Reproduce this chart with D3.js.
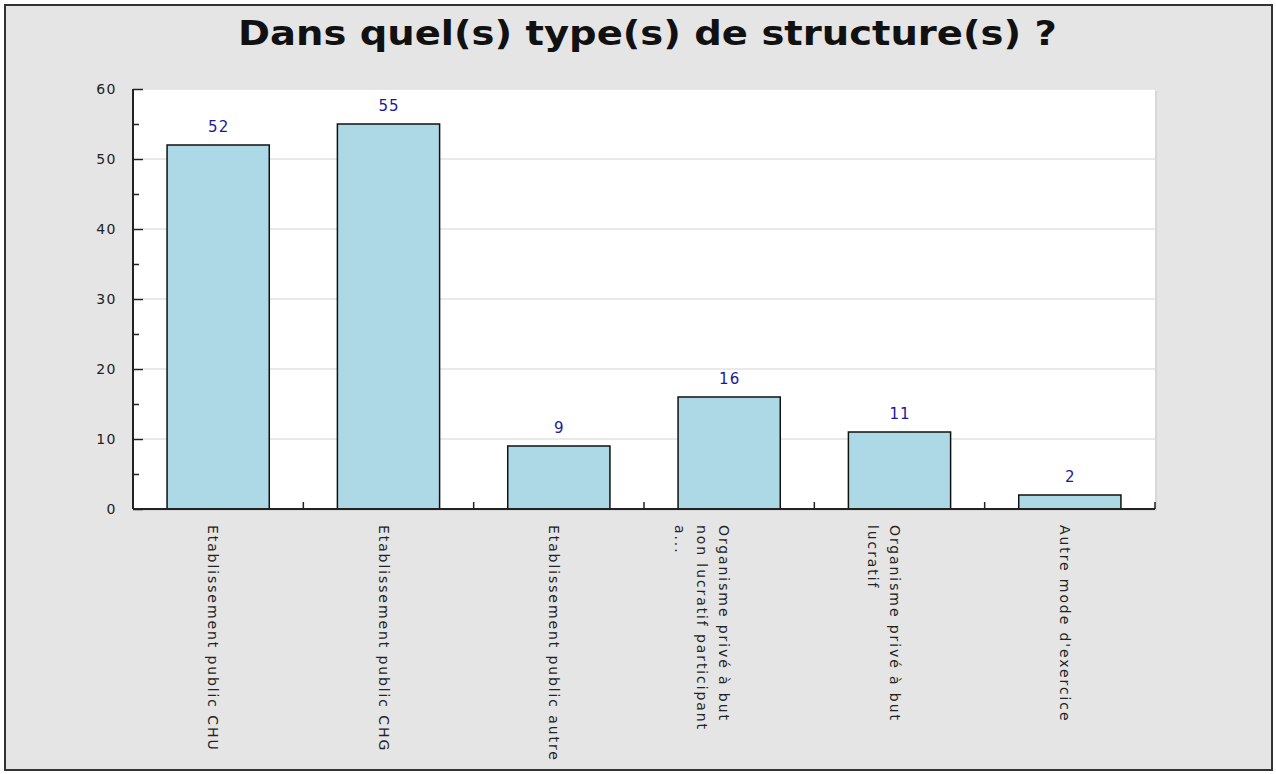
<!DOCTYPE html>
<html>
<head>
<meta charset="utf-8">
<script src="https://cdn.jsdelivr.net/npm/d3@7"></script>
<style>
  body { margin: 0; background: #fff; }
  text { font-family: "DejaVu Sans", Verdana, sans-serif; }
</style>
</head>
<body>
<div id="bar_chart"></div>
<script>
// data
const categories = [
  ['Etablissement public CHU'],
  ['Etablissement public CHG'],
  ['Etablissement public autre'],
  ['Organisme privé à but', 'non lucratif participant', 'a...'],
  ['Organisme privé à but', 'lucratif'],
  ["Autre mode d'exercice"]
];
const counts = [52, 55, 9, 16, 11, 2];
const yTicks = [0, 10, 20, 30, 40, 50, 60];
const title = 'Dans quel(s) type(s) de structure(s) ?';

const W = 1276, H = 774;
const chart = {left: 133, right: 1155, top: 89, bottom: 509};

const data = counts.map((c, i) => ({key: i, lines: categories[i], count: c}));

const xScale = d3.scaleBand()
  .domain(data.map(d => d.key))
  .range([chart.left, chart.right])
  .paddingInner(0.4)
  .paddingOuter(0.2);
const band = (chart.right - chart.left) / data.length;

const yScale = d3.scaleLinear()
  .domain([0, 60])
  .range([chart.bottom, chart.top]);

const svg = d3.select('#bar_chart')
  .append('svg')
  .attr('width', W)
  .attr('height', H);

// background + frame
svg.append('rect')
  .attr('x', 5).attr('y', 5)
  .attr('width', W - 9).attr('height', H - 9)
  .attr('fill', '#e5e5e5')
  .attr('stroke', '#333')
  .attr('stroke-width', 2);

// plot area with slight shadow
svg.append('rect')
  .attr('x', chart.left + 2).attr('y', chart.top + 2)
  .attr('width', chart.right - chart.left).attr('height', chart.bottom - chart.top)
  .attr('fill', '#d8d8d8');
svg.append('rect')
  .attr('x', chart.left).attr('y', chart.top)
  .attr('width', chart.right - chart.left).attr('height', chart.bottom - chart.top)
  .attr('fill', '#fff');

// title: glyphs are stretched horizontally in the picture
const titleText = svg.append('text')
  .attr('x', 0).attr('y', 0)
  .attr('font-size', '33px')
  .attr('font-weight', 'bold')
  .attr('fill', '#111')
  .text(title);
const tw = titleText.node().getComputedTextLength();
titleText.attr('transform', `translate(238,45) scale(${819 / tw},1)`);

// gridlines
svg.append('g')
  .selectAll('line')
  .data(yTicks.filter(t => t > 0))
  .join('line')
    .attr('x1', chart.left + 10)
    .attr('x2', chart.right)
    .attr('y1', d => yScale(d))
    .attr('y2', d => yScale(d))
    .attr('stroke', '#e2e2e2')
    .attr('stroke-width', 1.5);

// y axis: major ticks inside, minor ticks every 5
const yAxis = svg.append('g')
  .attr('transform', `translate(${chart.left},0)`)
  .call(d3.axisRight(yScale).tickValues(yTicks).tickSize(10).tickFormat(''));
yAxis.select('.domain').remove();
yAxis.selectAll('line').attr('stroke', '#222').attr('stroke-width', 1.5);

svg.append('g')
  .attr('transform', `translate(${chart.left},0)`)
  .call(d3.axisRight(yScale).tickValues(d3.range(5, 60, 10)).tickSize(6).tickFormat(''))
  .call(g => g.select('.domain').remove())
  .selectAll('line').attr('stroke', '#222').attr('stroke-width', 1.5);

svg.append('g')
  .selectAll('text')
  .data(yTicks)
  .join('text')
    .attr('x', chart.left - 16)
    .attr('y', d => yScale(d))
    .attr('dy', '0.36em')
    .attr('text-anchor', 'end')
    .attr('font-size', '14px')
    .attr('letter-spacing', '1.5px')
    .attr('fill', '#222')
    .text(d => d);

// bars
svg.append('g')
  .selectAll('rect')
  .data(data)
  .join('rect')
    .attr('x', d => xScale(d.key))
    .attr('y', d => yScale(d.count))
    .attr('width', xScale.bandwidth())
    .attr('height', d => yScale(0) - yScale(d.count))
    .attr('fill', '#add8e6')
    .attr('stroke', '#111')
    .attr('stroke-width', 1.5);

// value labels
svg.append('g')
  .selectAll('text')
  .data(data)
  .join('text')
    .attr('x', d => xScale(d.key) + xScale.bandwidth() / 2 + 0.5)
    .attr('y', d => yScale(d.count) - 13)
    .attr('text-anchor', 'middle')
    .attr('font-size', '15px')
    .attr('letter-spacing', '1px')
    .attr('fill', '#1a1a9a')
    .text(d => d.count);

// axis lines
svg.append('line')
  .attr('x1', chart.left).attr('x2', chart.left)
  .attr('y1', chart.top).attr('y2', chart.bottom)
  .attr('stroke', '#222').attr('stroke-width', 2);
svg.append('line')
  .attr('x1', chart.left).attr('x2', chart.right)
  .attr('y1', chart.bottom).attr('y2', chart.bottom)
  .attr('stroke', '#222').attr('stroke-width', 2);

// x ticks at band boundaries, pointing up
svg.append('g')
  .selectAll('line')
  .data(d3.range(1, data.length + 1))
  .join('line')
    .attr('x1', i => chart.left + i * band)
    .attr('x2', i => chart.left + i * band)
    .attr('y1', chart.bottom)
    .attr('y2', chart.bottom - 7)
    .attr('stroke', '#222').attr('stroke-width', 1.5);

// x labels, rotated
const xl = svg.append('g')
  .selectAll('text')
  .data(data)
  .join('text')
    .attr('transform', d => `translate(${xScale(d.key) + xScale.bandwidth() / 2 - 10},525) rotate(90)`)
    .attr('font-size', '14px')
    .attr('letter-spacing', '1.9px')
    .attr('fill', '#222');
xl.selectAll('tspan')
  .data(d => d.lines)
  .join('tspan')
    .attr('x', 0)
    .attr('y', (l, i) => i * 22)
    .text(l => l);
</script>
</body>
</html>
